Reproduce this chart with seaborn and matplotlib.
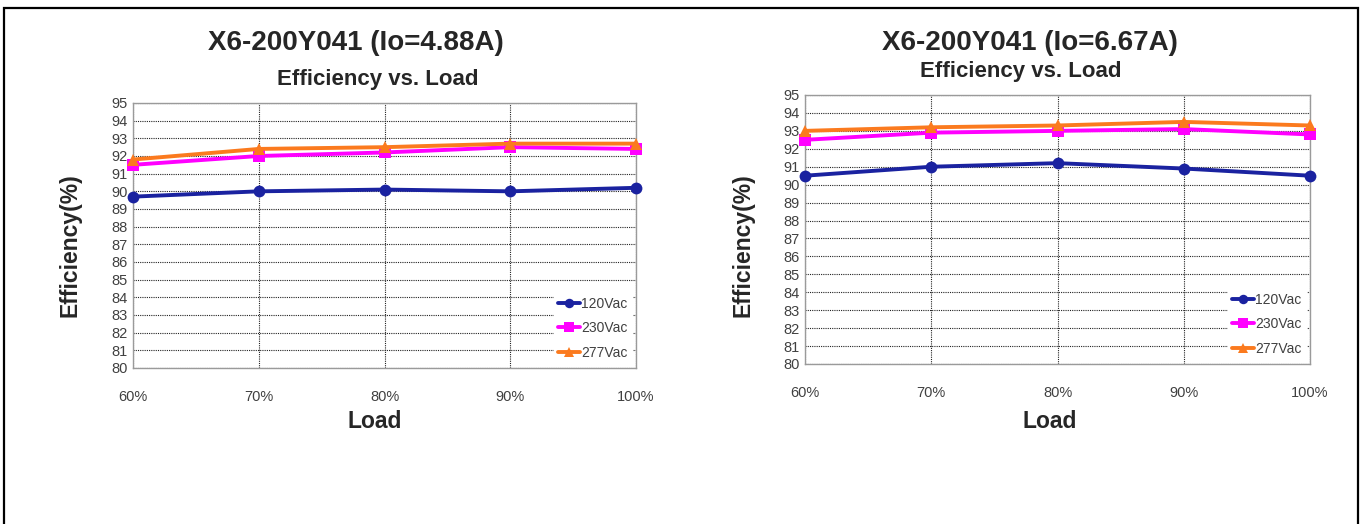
import numpy as np
import pandas as pd
import seaborn as sns
import matplotlib.pyplot as plt
from matplotlib.patches import Rectangle

# data
load = [60, 70, 80, 90, 100]
load_labels = ["60%", "70%", "80%", "90%", "100%"]
series = ["120Vac", "230Vac", "277Vac"]

eff_488_120 = [89.7, 90.0, 90.1, 90.0, 90.2]
eff_488_230 = [91.5, 92.0, 92.2, 92.5, 92.4]
eff_488_277 = [91.8, 92.4, 92.5, 92.7, 92.7]

eff_667_120 = [90.5, 91.0, 91.2, 90.9, 90.5]
eff_667_230 = [92.5, 92.9, 93.0, 93.1, 92.8]
eff_667_277 = [93.0, 93.2, 93.3, 93.5, 93.3]

titles = ["X6-200Y041 (Io=4.88A)", "X6-200Y041 (Io=6.67A)"]

farger = {"120Vac": "#1a22a0", "230Vac": "#ff00ff", "277Vac": "#fb7a1e"}
markører = {"120Vac": "o", "230Vac": "s", "277Vac": "^"}


def lag_df(a, b, c):
    rows = []
    for navn, verdier in zip(series, [a, b, c]):
        for x, y in zip(load, verdier):
            rows.append({"Load": x, "Efficiency": y, "Vac": navn})
    return pd.DataFrame(rows)


df_list = [lag_df(eff_488_120, eff_488_230, eff_488_277),
           lag_df(eff_667_120, eff_667_230, eff_667_277)]

sns.set_style("white")
plt.rcParams["font.family"] = ["Liberation Sans", "DejaVu Sans"]

fig = plt.figure(figsize=(13.64, 5.24), dpi=100)

# ramme rundt hele figuren
fig.patches.append(Rectangle((4 / 1364, -0.05), 1354 / 1364, 1.05 - 8 / 524,
                             transform=fig.transFigure, fill=False,
                             edgecolor="black", linewidth=1.6, zorder=0))

posisjoner = [[133 / 1364, 1 - 368 / 524, 503 / 1364, 265 / 524],
              [805 / 1364, 1 - 364 / 524, 505 / 1364, 269 / 524]]
tittel_pos = [(356, 43, 378, 79), (1030, 43, 1021, 71)]
xlabel_pos = [375, 1050]
ylabel_pos = [(70, 245), (743, 245)]

for i in range(2):
    ax = fig.add_axes(posisjoner[i])
    sns.lineplot(data=df_list[i], x="Load", y="Efficiency", hue="Vac",
                 style="Vac", palette=farger, markers=markører, dashes=False,
                 linewidth=2.8, markersize=8.5, markeredgewidth=0,
                 ax=ax, clip_on=False, zorder=3)
    ax.set_xlim(60, 100)
    ax.set_ylim(80, 95)
    ax.set_yticks(range(80, 96))
    ax.set_xticks(load)
    ax.set_xticklabels(load_labels)
    ax.tick_params(axis="both", length=0, labelsize=10.5, labelcolor="#404040")
    ax.tick_params(axis="x", pad=16)
    ax.tick_params(axis="y", pad=4)
    ax.grid(True, color="#222222", linestyle=(0, (1, 1)), linewidth=0.8)
    ax.set_axisbelow(True)
    for s in ax.spines.values():
        s.set_color("#9a9a9a")
        s.set_linewidth(1.0)
    ax.set_xlabel("")
    ax.set_ylabel("")
    leg = ax.legend(loc="lower right", frameon=True, fontsize=10,
                    handlelength=1.6, handletextpad=0.1, labelspacing=0.75,
                    borderpad=0.3, borderaxespad=0.3, fancybox=False,
                    markerscale=0.8)
    leg.get_frame().set_edgecolor("white")
    leg.get_frame().set_facecolor("white")
    leg.get_frame().set_alpha(1)
    for t in leg.get_texts():
        t.set_color("#404040")

    tx, ty, sx, sy = tittel_pos[i]
    fig.text(tx / 1364, 1 - ty / 524, titles[i], ha="center", va="center",
             fontsize=20, fontweight="bold")
    fig.text(sx / 1364, 1 - sy / 524, "Efficiency vs. Load", ha="center",
             va="center", fontsize=16, fontweight="bold")
    fig.text(xlabel_pos[i] / 1364, 1 - 422 / 524, "Load", ha="center",
             va="center", fontsize=16.5, fontweight="bold")
    yx, yy = ylabel_pos[i]
    fig.text(yx / 1364, 1 - yy / 524, "Efficiency(%)", ha="center",
             va="center", rotation=90, fontsize=16.5, fontweight="bold")

fig.savefig("out.png", dpi=100)
